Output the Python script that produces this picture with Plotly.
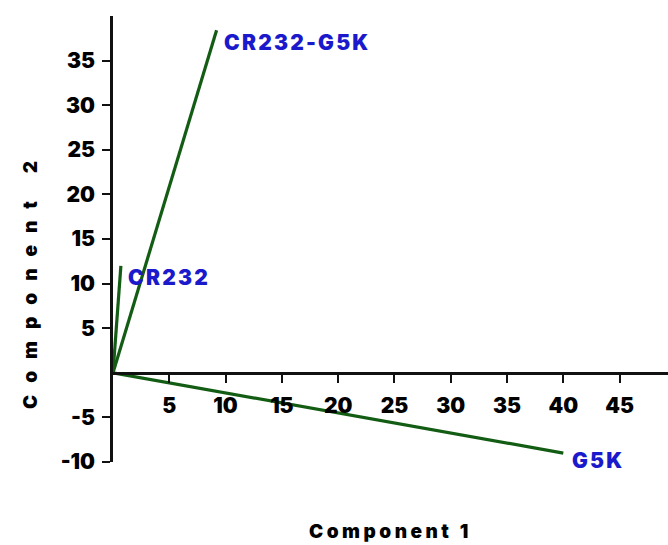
import plotly.graph_objects as go

# Data
names = ["CR232-G5K", "CR232", "G5K"]
comp1 = [9.2, 0.7, 40.0]
comp2 = [38.4, 12.0, -9.0]
x_ticks = [5, 10, 15, 20, 25, 30, 35, 40, 45]
y_ticks = [-10, -5, 5, 10, 15, 20, 25, 30, 35]

label_shift = {"CR232-G5K": (5, -12), "CR232": (5, -12), "G5K": (7, -7)}

LINE = "#135c13"
BLUE = "#1a1acc"
FONT = "Inter"

fig = go.Figure()
for n, x, y in zip(names, comp1, comp2):
    fig.add_trace(go.Scatter(x=[0, x], y=[0, y], mode="lines",
                             line=dict(color=LINE, width=3.2), showlegend=False,
                             hoverinfo="skip"))
    dx, dy = label_shift[n]
    fig.add_annotation(x=x, y=y, xref="x", yref="y",
                       text="<span style='letter-spacing:2.2px'>%s</span>" % n,
                       showarrow=False, xanchor="left", yanchor="middle",
                       xshift=dx, yshift=dy,
                       font=dict(family=FONT, size=21, color=BLUE, weight=900))

tickfont = dict(family=FONT, size=21, color="black", weight=900)
fig.update_layout(
    width=668, height=545,
    margin=dict(l=113, r=0, t=16, b=83),
    paper_bgcolor="white", plot_bgcolor="white",
    font=dict(family=FONT, size=20, color="black"),
    xaxis=dict(range=[0, 49.3], anchor="free", position=0.2,
               tickvals=x_ticks, ticktext=[str(v) for v in x_ticks],
               tickfont=tickfont,
               ticks="outside", ticklen=8, tickwidth=2, tickcolor="#111",
               showline=True, linecolor="#111", linewidth=2.5,
               showgrid=False, zeroline=False, ticklabelstandoff=5),
    yaxis=dict(range=[-10, 40],
               tickvals=y_ticks, ticktext=[str(v) for v in y_ticks],
               tickfont=tickfont,
               ticks="outside", ticklen=8, tickwidth=2, tickcolor="#111",
               showline=True, linecolor="#111", linewidth=2.5,
               showgrid=False, zeroline=False, ticklabelstandoff=3),
)

fig.add_annotation(xref="paper", yref="paper", x=0.5, y=-0.155,
                   text="<span style='letter-spacing:3.5px'>Component 1</span>",
                   showarrow=False, xanchor="center", yanchor="middle",
                   font=dict(family=FONT, size=19, color="black", weight=900))
fig.add_annotation(xref="paper", yref="paper", x=0.0, y=(462 - 279) / 446,
                   xshift=-83,
                   text="<span style='letter-spacing:12px'>Component 2</span>",
                   showarrow=False, textangle=-90,
                   xanchor="center", yanchor="middle",
                   font=dict(family=FONT, size=19, color="black", weight=900))

fig.write_html("out.html")
